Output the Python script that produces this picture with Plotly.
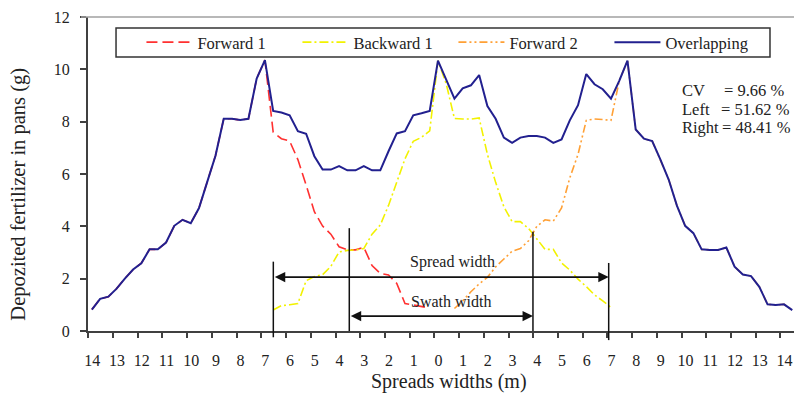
import plotly.graph_objects as go

# ---------------- data ----------------
# pan index along the transect (every third of an axis division)
pan_index = list(range(86))

tick_labels = ["14", "13", "12", "11", "10", "9", "8", "7", "6", "5", "4", "3", "2", "1", "0",
               "1", "2", "3", "4", "5", "6", "7", "8", "9", "10", "11", "12", "13", "14"]
y_ticks = [0, 2, 4, 6, 8, 10, 12]

overlapping = [0.82, 1.23, 1.31, 1.62, 2.00, 2.35, 2.59, 3.12, 3.12, 3.38,
               4.02, 4.25, 4.12, 4.70, 5.70, 6.70, 8.11, 8.11, 8.06, 8.11,
               9.65, 10.35, 8.41, 8.35, 8.24, 7.64, 7.54, 6.68, 6.17, 6.17,
               6.30, 6.14, 6.14, 6.30, 6.14, 6.14, 6.87, 7.55, 7.64, 8.24,
               8.32, 8.41, 10.33, 9.60, 8.88, 9.27, 9.39, 9.78, 8.60, 8.11,
               7.39, 7.19, 7.39, 7.45, 7.45, 7.39, 7.19, 7.32, 8.05, 8.63,
               9.82, 9.43, 9.24, 8.88, 9.56, 10.33, 7.70, 7.35, 7.26, 6.55,
               5.79, 4.79, 4.02, 3.74, 3.12, 3.10, 3.10, 3.19, 2.46, 2.16,
               2.10, 1.69, 1.02, 0.99, 1.02, 0.80]

forward1_x = list(range(0, 42))
forward1 = [0.82, 1.23, 1.31, 1.62, 2.00, 2.35, 2.59, 3.12, 3.12, 3.38,
            4.02, 4.25, 4.12, 4.70, 5.70, 6.70, 8.11, 8.11, 8.06, 8.11,
            9.65, 10.35, 7.60, 7.35, 7.26, 6.55, 5.58, 4.56, 4.01, 3.70,
            3.22, 3.10, 3.10, 3.20, 2.50, 2.20, 2.14, 1.82, 1.05, 0.99,
            0.92, 0.88]

backward1_x = list(range(22, 64))
backward1 = [0.80, 0.97, 1.00, 1.05, 1.92, 2.08, 2.15, 2.47, 3.02, 3.08,
             3.10, 3.15, 3.70, 4.05, 4.80, 5.65, 6.58, 7.25, 7.40, 7.65,
             10.33, 9.45, 8.12, 8.10, 8.10, 8.14, 6.75, 5.68, 4.75, 4.18,
             4.18, 3.92, 3.50, 3.12, 3.12, 2.60, 2.33, 1.98, 1.70, 1.38,
             1.15, 0.90]

forward2_x = list(range(44, 86))
forward2 = [0.86, 1.15, 1.50, 1.80, 2.05, 2.45, 2.75, 3.05, 3.15, 3.45,
            4.00, 4.25, 4.20, 4.70, 5.85, 6.75, 8.05, 8.10, 8.08, 8.05,
            9.56, 10.33, 7.70, 7.35, 7.26, 6.55, 5.79, 4.79, 4.02, 3.74,
            3.12, 3.10, 3.10, 3.19, 2.46, 2.16, 2.10, 1.69, 1.02, 0.99,
            1.02, 0.80]

# tick marks of the width axis, in pan-index units
tick_pos = [round(-0.434 + 3 * j, 3) for j in range(len(tick_labels))]

# widths marked on the chart (pan-index units / g)
spread_bounds = [22.02, 62.72]
spread_level = 2.06
swath_bounds = [31.24, 53.53]
swath_level = 0.57
spread_tops = [2.65, 2.60]
swath_tops = [3.93, 3.79]

stats_labels = ["CV", "Left", "Right"]
stats_values = ["= 9.66 %", "= 51.62 %", "= 48.41 %"]

# ---------------- figure ----------------
SERIF = "Liberation Serif, Times New Roman, serif"
TXT = "#222222"

fig = go.Figure()
fig.add_trace(go.Scatter(x=forward1_x, y=forward1, name="Forward 1", mode="lines",
                         line=dict(color="#FF3030", width=1.6, dash="11px,5px")))
fig.add_trace(go.Scatter(x=backward1_x, y=backward1, name="Backward 1", mode="lines",
                         line=dict(color="#F2F200", width=1.6, dash="9px,3px,2px,3px")))
fig.add_trace(go.Scatter(x=forward2_x, y=forward2, name="Forward 2", mode="lines",
                         line=dict(color="#FFA035", width=1.6, dash="8px,3px,2px,3px,2px,3px")))
fig.add_trace(go.Scatter(x=pan_index, y=overlapping, name="Overlapping", mode="lines",
                         line=dict(color="#22208F", width=2)))

shapes = []
# top frame line
shapes.append(dict(type="line", xref="paper", yref="paper", x0=-0.01, x1=1, y0=1, y1=1,
                   line=dict(color="#A0A0A0", width=1.5)))
# legend frame
shapes.append(dict(type="rect", xref="paper", yref="paper", x0=0.0397, x1=0.966,
                   y0=0.8726, y1=0.965, line=dict(color="#333333", width=1.5),
                   fillcolor="white", layer="above"))
# vertical markers
for xb, top, bot in zip(spread_bounds, spread_tops, [-0.02, -0.029]):
    shapes.append(dict(type="line", xref="x", yref="paper", x0=xb, x1=xb,
                       y0=bot, y1=top / 12, line=dict(color="#111111", width=1.5)))
for xb, top in zip(swath_bounds, swath_tops):
    shapes.append(dict(type="line", xref="x", yref="paper", x0=xb, x1=xb,
                       y0=0, y1=top / 12, line=dict(color="#111111", width=1.5)))

annotations = []
for (x0, x1, lvl) in [(spread_bounds[0], spread_bounds[1], spread_level),
                      (swath_bounds[0], swath_bounds[1], swath_level)]:
    annotations.append(dict(x=x1, y=lvl, ax=x0, ay=lvl, xref="x", yref="y", axref="x", ayref="y",
                            text="", showarrow=True, arrowhead=2, startarrowhead=2,
                            arrowside="end+start", arrowsize=1.3, startarrowsize=1.3,
                            arrowwidth=1.6, arrowcolor="#111111", standoff=0, startstandoff=0))
annotations.append(dict(x=43.8, y=2.64, xref="x", yref="y", text="Spread width", showarrow=False,
                        font=dict(family=SERIF, size=16, color=TXT)))
annotations.append(dict(x=43.6, y=1.11, xref="x", yref="y", text="Swath width", showarrow=False,
                        font=dict(family=SERIF, size=16, color=TXT)))
# statistics block
for i, (lab, val, vx) in enumerate(zip(stats_labels, stats_values, [0.898, 0.8938, 0.8945])):
    yy = 0.7675 - i * 0.0605
    annotations.append(dict(x=0.838, y=yy, xref="paper", yref="paper", text=lab,
                            xanchor="left", yanchor="middle", showarrow=False,
                            font=dict(family=SERIF, size=16.5, color=TXT)))
    annotations.append(dict(x=vx, y=yy, xref="paper", yref="paper", text=val,
                            xanchor="left", yanchor="middle", showarrow=False,
                            font=dict(family=SERIF, size=16.5, color=TXT)))
# axis titles
annotations.append(dict(x=-0.0984, y=0.436, xref="paper", yref="paper",
                        text="Depozited fertilizer in pans (g)", textangle=-90,
                        showarrow=False, xanchor="center", yanchor="middle",
                        font=dict(family=SERIF, size=20.5, color=TXT)))
annotations.append(dict(x=0.511, y=-0.1624, xref="paper", yref="paper",
                        text="Spreads widths (m)", showarrow=False,
                        xanchor="center", yanchor="middle",
                        font=dict(family=SERIF, size=20, color=TXT)))

fig.update_layout(
    width=794, height=393,
    margin=dict(l=88, r=0, t=17, b=62),
    paper_bgcolor="white", plot_bgcolor="white",
    showlegend=True,
    legend=dict(orientation="h", x=0.0757, y=0.919, xanchor="left", yanchor="middle",
                bgcolor="rgba(0,0,0,0)", borderwidth=0,
                itemwidth=46, entrywidth=95, entrywidthmode="pixels",
                font=dict(family=SERIF, size=16.5, color=TXT), traceorder="normal"),
    xaxis=dict(range=[-0.471, 85.21], tickmode="array", tickvals=tick_pos, ticktext=tick_labels,
               showgrid=False, zeroline=False, showline=True, linecolor="#404040", linewidth=2,
               ticks="outside", ticklen=5, tickwidth=1.5, tickcolor="#404040",
               ticklabelshift=4, ticklabelstandoff=9,
               tickfont=dict(family=SERIF, size=16, color=TXT)),
    yaxis=dict(range=[0, 12], tickmode="array", tickvals=y_ticks,
               showgrid=False, zeroline=False, showline=True, linecolor="#404040", linewidth=2,
               ticks="outside", ticklen=6, tickwidth=1.5, tickcolor="#404040",
               ticklabelstandoff=7,
               tickfont=dict(family=SERIF, size=16, color=TXT)),
    shapes=shapes, annotations=annotations,
)

fig.write_html("out.html")
